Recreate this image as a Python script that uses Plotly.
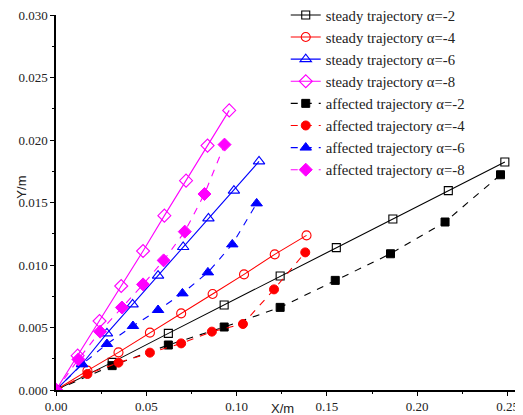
import plotly.graph_objects as go

# steady trajectories
sx2 = [0, 0.0311, 0.0622, 0.0931, 0.1241, 0.1552, 0.1865, 0.2172, 0.2485]
sy2 = [0, 0.00221, 0.00453, 0.0068, 0.00912, 0.01139, 0.01368, 0.01595, 0.01824]
sx4 = [0, 0.0174, 0.0346, 0.0520, 0.0693, 0.0867, 0.1041, 0.1211, 0.1387]
sy4 = [0, 0.00155, 0.00301, 0.00459, 0.00613, 0.00768, 0.00925, 0.01085, 0.01237]
sx6 = [0, 0.0144, 0.0282, 0.0424, 0.0565, 0.0704, 0.0844, 0.0985, 0.1124]
sy6 = [0, 0.00208, 0.00453, 0.00685, 0.00915, 0.01144, 0.01373, 0.01595, 0.01829]
sx8 = [0, 0.0120, 0.0241, 0.0361, 0.0482, 0.0600, 0.0720, 0.0839, 0.0959]
sy8 = [0, 0.00275, 0.00552, 0.00832, 0.01112, 0.01395, 0.01675, 0.01955, 0.02237]

# affected trajectories
ax2 = [0, 0.0311, 0.0622, 0.0931, 0.1241, 0.1546, 0.1852, 0.2154, 0.2461]
ay2 = [0, 0.00195, 0.0036, 0.00504, 0.00661, 0.00877, 0.0109, 0.01344, 0.01722]
ax4 = [0, 0.0174, 0.0346, 0.0520, 0.0693, 0.0863, 0.1035, 0.1207, 0.1380]
ay4 = [0, 0.00128, 0.00219, 0.00299, 0.00373, 0.00467, 0.00528, 0.00805, 0.01101]
ax6 = [0, 0.0144, 0.0282, 0.0426, 0.0565, 0.0700, 0.0841, 0.0976, 0.1111]
ay6 = [0, 0.00205, 0.00368, 0.00512, 0.0064, 0.00773, 0.00941, 0.01165, 0.01493]
ax8 = [0, 0.0124, 0.0244, 0.0365, 0.0482, 0.0596, 0.0713, 0.0822, 0.0933]
ay8 = [0, 0.00245, 0.00467, 0.0066, 0.00845, 0.01037, 0.01267, 0.01568, 0.01963]

alphas = ["-2", "-4", "-6", "-8"]
colors = ["black", "red", "blue", "magenta"]
steady = [(sx2, sy2), (sx4, sy4), (sx6, sy6), (sx8, sy8)]
affected = [(ax2, ay2), (ax4, ay4), (ax6, ay6), (ax8, ay8)]
symbols = ["square", "circle", "triangle-up", "diamond"]
sizes = [8, 9, 10, 10]

SERIF = "Liberation Serif"
SANS = "Liberation Sans"

fig = go.Figure()
for (x, y), a, c, s, sz in zip(steady, alphas, colors, symbols, sizes):
    fig.add_trace(go.Scatter(
        x=x, y=y, mode="lines+markers", name=f"steady trajectory \u03b1={a}",
        line=dict(color=c, width=1.1),
        marker=dict(symbol=s + "-open", size=sz, color=c, line=dict(width=1.1, color=c)),
    ))
for (x, y), a, c, s, sz in zip(affected, alphas, colors, symbols, sizes):
    fig.add_trace(go.Scatter(
        x=x, y=y, mode="lines+markers", name=f"affected trajectory \u03b1={a}",
        line=dict(color=c, width=1.1, dash="7px,7px"),
        marker=dict(symbol=s, size=sz, color=c, line=dict(width=1, color=c)),
    ))

axis_font = dict(family=SERIF, size=13, color="#222")
fig.update_layout(
    width=515, height=407,
    margin=dict(l=48, r=1, t=7, b=25, autoexpand=False),
    plot_bgcolor="white", paper_bgcolor="white",
    font=dict(family=SERIF, size=14, color="#222"),
    legend=dict(
        x=0.493, y=1.043, xanchor="left", yanchor="top",
        bgcolor="rgba(0,0,0,0)", borderwidth=0,
        font=dict(family=SERIF, size=14.7, color="#222"),
        tracegroupgap=0, itemwidth=30,
    ),
    xaxis=dict(
        range=[0, 0.258], tickvals=[0, 0.05, 0.10, 0.15, 0.20, 0.25],
        ticktext=["0.00", "0.05", "0.10", "0.15", "0.20", "0.25"],
        showline=True, linecolor="black", linewidth=1.5, mirror=False,
        ticks="outside", ticklen=4, tickwidth=1, tickcolor="black",
        minor=dict(tickvals=[0.025, 0.075, 0.125, 0.175, 0.225], ticks="outside", ticklen=2, tickcolor="black"),
        showgrid=False, zeroline=False, tickfont=axis_font, ticklabeloverflow="allow",
    ),
    yaxis=dict(
        range=[0, 0.030], tickvals=[0, 0.005, 0.010, 0.015, 0.020, 0.025, 0.030],
        ticktext=["0.000", "0.005", "0.010", "0.015", "0.020", "0.025", "0.030"],
        showline=True, linecolor="black", linewidth=1.5, mirror=False,
        ticks="outside", ticklen=4, tickwidth=1, tickcolor="black",
        minor=dict(tickvals=[0.0025, 0.0075, 0.0125, 0.0175, 0.0225, 0.0275], ticks="outside", ticklen=2, tickcolor="black"),
        showgrid=False, zeroline=False, tickfont=axis_font, ticklabeloverflow="allow",
    ),
    annotations=[
        dict(text="X/m", xref="paper", yref="paper", x=0.487, y=-0.05, xanchor="center", yanchor="middle",
             showarrow=False, font=dict(family=SANS, size=13, color="#222")),
        dict(text="Y/m", xref="paper", yref="paper", x=-0.074, y=0.541, xanchor="center", yanchor="middle",
             textangle=-90, showarrow=False, font=dict(family=SANS, size=13, color="#222")),
    ],
    showlegend=True,
)
fig.write_html("out.html")
